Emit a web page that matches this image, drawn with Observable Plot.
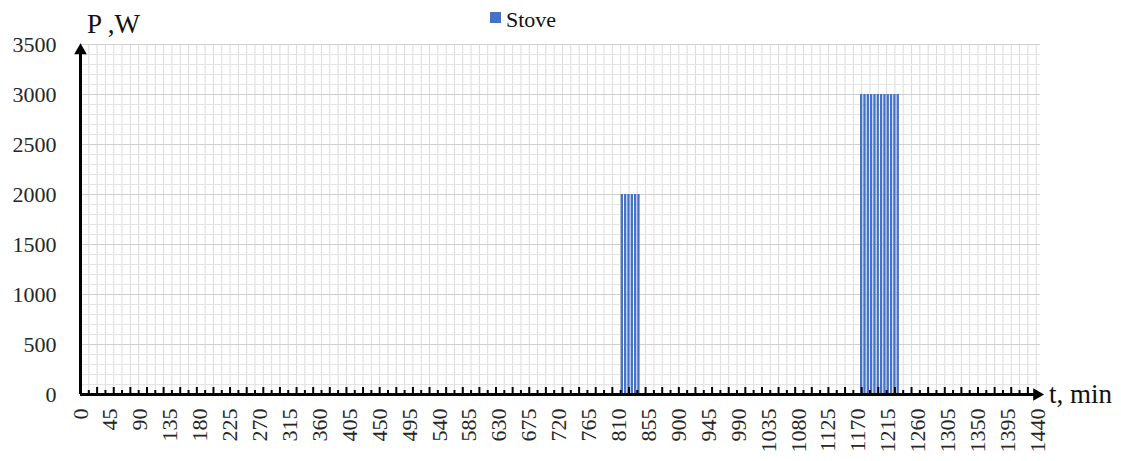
<!DOCTYPE html>
<html>
<head>
<meta charset="utf-8">
<script src="https://cdn.jsdelivr.net/npm/d3@7"></script>
<script src="https://cdn.jsdelivr.net/npm/@observablehq/plot@0.6"></script>
<style>
  html, body { margin: 0; padding: 0; background: #fff; }
  #chart { width: 1121px; height: 461px; }
</style>
</head>
<body>
<div id="chart"></div>
<script>
// ---- data ----
const seriesName = "Stove";
const stoveMinutes = [815, 820, 825, 830, 835, 840,
  1175, 1180, 1185, 1190, 1195, 1200, 1205, 1210, 1215, 1220, 1225, 1230];
const stovePower = [2000, 2000, 2000, 2000, 2000, 2000,
  3000, 3000, 3000, 3000, 3000, 3000, 3000, 3000, 3000, 3000, 3000, 3000];
const xTickLabels = [0, 45, 90, 135, 180, 225, 270, 315, 360, 405, 450, 495, 540, 585, 630, 675,
  720, 765, 810, 855, 900, 945, 990, 1035, 1080, 1125, 1170, 1215, 1260, 1305, 1350, 1395, 1440];
const yTickLabels = [0, 500, 1000, 1500, 2000, 2500, 3000, 3500];
const xTitle = "t, min";
const yTitle = "P ,W";

const barColor = "#4472C4";
const data = stoveMinutes.map((t, i) => ({t, w: stovePower[i]}));

const xGrid = d3.range(12.5, 1444, 12.5);
const yMinor = d3.range(100, 3501, 100).filter(v => v % 500 !== 0);
const yMajor = yTickLabels.filter(v => v > 0);
const bottomTicks = d3.range(12.5, 1440, 12.5);

const chart = Plot.plot({
  width: 1121,
  height: 461,
  marginLeft: 80,
  marginRight: 81,
  marginTop: 44,
  marginBottom: 67,
  style: {fontFamily: "'Liberation Serif', 'Times New Roman', serif", fontSize: "22px", color: "#262626", background: "white"},
  x: {domain: [0, 1444], ticks: xTickLabels, tickFormat: d => String(d), tickRotate: -90, tickSize: 0, tickPadding: 14, label: null},
  y: {domain: [0, 3500], ticks: yTickLabels, tickFormat: d => String(d), tickSize: 0, tickPadding: 24, label: null},
  marks: [
    Plot.ruleX(xGrid, {stroke: "#dcdcdc", strokeWidth: 1}),
    Plot.ruleY(yMinor, {stroke: "#e4e4e4", strokeWidth: 1}),
    Plot.ruleY(yMajor, {stroke: "#d0d0d0", strokeWidth: 1}),
    Plot.rectY(data, {x1: d => d.t - 2.5, x2: d => d.t + 2.5, y: "w", fill: barColor, insetLeft: 0.5, insetRight: 0.5}),
    Plot.ruleX(bottomTicks, {x: d => d, y1: 0, y2: d => (d % 25 === 0 ? 70 : 40), stroke: "black", strokeWidth: 2}),
    Plot.ruleY([0], {x1: 0, x2: 1440, stroke: "black", strokeWidth: 3}),
    Plot.ruleX([0], {y1: 0, y2: 3450, stroke: "black", strokeWidth: 3}),
    Plot.dot([{x: 0, y: 3500}], {x: "x", y: "y", symbol: "triangle2", r: 6, fill: "black", stroke: "none", dy: 6}),
    Plot.dot([{x: 1440, y: 0}], {x: "x", y: "y", symbol: "triangle2", r: 6, fill: "black", stroke: "none", rotate: 90, dx: -1})
  ]
});

const svg = d3.select(chart);
const addText = (x, y, size, s) => svg.append("text").attr("x", x).attr("y", y)
  .attr("text-anchor", "start")
  .attr("font-family", "'Liberation Serif', serif").attr("font-size", size).attr("fill", "#111").text(s);
addText(87, 33, 27, yTitle);
addText(1049, 403, 27, xTitle);
svg.append("rect").attr("x", 490).attr("y", 12).attr("width", 11).attr("height", 11).attr("fill", barColor);
addText(506, 27, 22, seriesName);

document.getElementById("chart").appendChild(chart);
</script>
</body>
</html>
